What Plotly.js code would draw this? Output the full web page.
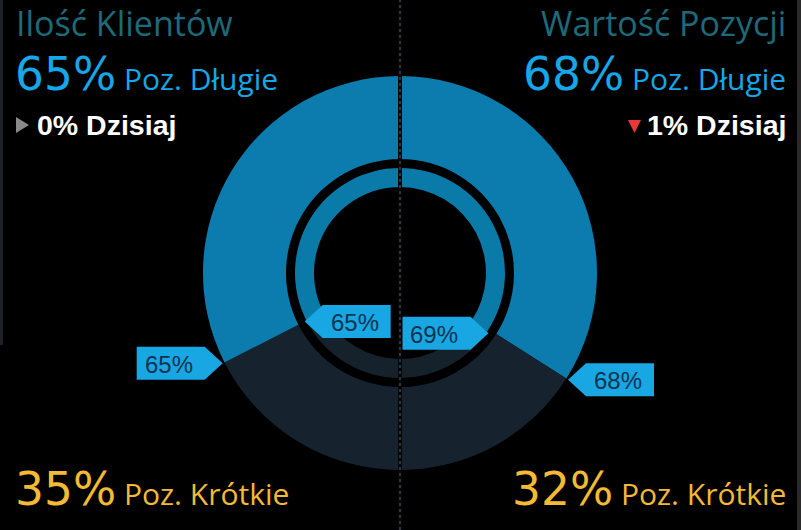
<!DOCTYPE html>
<html><head><meta charset="utf-8">
<script src="https://cdn.plot.ly/plotly-3.0.1.min.js"></script>
<style>html,body{margin:0;padding:0;background:#000;}#chart{width:801px;height:530px;}</style>
</head><body><div id="chart"></div>
<script>
// ---- data ----
const panelTitles = ['Ilość Klientów', 'Wartość Pozycji'];
const categories = ['Poz. Długie', 'Poz. Krótkie'];
const clientsOuter = [65, 35];   // outer ring, left half
const valueOuter = [68, 32];     // outer ring, right half
const clientsInner = [65, 35];   // inner ring, left half
const valueInner = [69, 31];     // inner ring, right half
const dailyChange = [0, -1];     // "Dzisiaj" change: clients, value
const dailyLabel = 'Dzisiaj';

// ---- layout constants ----
const W = 801, H = 530;
const cx = 400, cy = 273;
const R1 = 197, r1 = 114;   // outer ring
const R2 = 105, r2 = 86;    // inner ring
const BLUE = '#0b7cad', BLUE_IN = '#0a7aa9', DARK = '#16232e', DARK_IN = '#15212b';
const LBL = '#19a7e3', LBL_TXT = '#0d3350';
const TEAL = '#1d6a7a', CYAN = '#16a7e8', GOLD = '#f4b935';

const px = x => x / W;
const py = y => 1 - y / H;

function domainFor(R) {
  return {x: [px(cx - R), px(cx + R)], y: [py(cy + R), py(cy - R)]};
}

const traces = [
  {type: 'pie', values: [valueOuter[0], valueOuter[1], clientsOuter[1], clientsOuter[0]],
   labels: ['a', 'b', 'c', 'd'], direction: 'clockwise', rotation: 0, sort: false,
   hole: r1 / R1, domain: domainFor(R1), textinfo: 'none', hoverinfo: 'skip',
   marker: {colors: [BLUE, DARK, DARK, BLUE], line: {width: 0}}},
  {type: 'pie', values: [valueInner[0], valueInner[1], clientsInner[1], clientsInner[0]],
   labels: ['a', 'b', 'c', 'd'], direction: 'clockwise', rotation: 0, sort: false,
   hole: r2 / R2, domain: domainFor(R2), textinfo: 'none', hoverinfo: 'skip',
   marker: {colors: [BLUE_IN, DARK_IN, DARK_IN, BLUE_IN], line: {width: 0}}}
];

const shapes = [];
const annotations = [];
const pathOf = pts => 'M' + pts.map(q => px(q[0]) + ',' + py(q[1])).join(' L') + ' Z';

// frame edges and centre divider
shapes.push({type: 'rect', xref: 'paper', yref: 'paper', x0: px(0), x1: px(3), y0: py(345), y1: 1, fillcolor: '#1b2125', line: {width: 0}, layer: 'below'});
shapes.push({type: 'rect', xref: 'paper', yref: 'paper', x0: px(797), x1: 1, y0: 0, y1: 1, fillcolor: '#2a2a2a', line: {width: 0}, layer: 'below'});
shapes.push({type: 'line', xref: 'paper', yref: 'paper', x0: px(cx), x1: px(cx), y0: 0, y1: 1, line: {color: '#060606', width: 4}, layer: 'above'});
shapes.push({type: 'line', xref: 'paper', yref: 'paper', x0: px(cx), x1: px(cx), y0: 0, y1: 1, line: {color: '#3a464e', width: 1.5, dash: 'dot'}, layer: 'above'});

// callout labels at the split points
function callout(longPct, R, side, dir) {
  // side: -1 left half, +1 right half ; dir: -1 body to the left of tip, +1 to the right
  const phi = (longPct / 100) * Math.PI;
  const rr = R + 2;
  const tx = cx + side * rr * Math.sin(phi);
  const ty = cy - rr * Math.cos(phi);
  const p = 18, w = 68, h = 33;
  const pts = [[tx, ty], [tx + dir * p, ty - h / 2], [tx + dir * (p + w), ty - h / 2],
               [tx + dir * (p + w), ty + h / 2], [tx + dir * p, ty + h / 2]];
  shapes.push({type: 'path', xref: 'paper', yref: 'paper', path: pathOf(pts), fillcolor: LBL, line: {width: 0}, layer: 'above'});
  annotations.push({xref: 'paper', yref: 'paper', x: px(tx + dir * (p + w / 2) - 2), y: py(ty + 1),
    text: longPct + '%', showarrow: false, xanchor: 'center', yanchor: 'middle',
    font: {family: 'Liberation Sans, Arial, sans-serif', size: 24, color: LBL_TXT}});
}
callout(clientsOuter[0], R1, -1, -1);
callout(clientsInner[0], R2, -1, +1);
callout(valueInner[0], R2, +1, -1);
callout(valueOuter[0], R1, +1, +1);

// text blocks
const FONT = 'Open Sans, Noto Sans, sans-serif';
function txt(x, y, anchor, yanchor, text, size, color, family) {
  annotations.push({xref: 'paper', yref: 'paper', x: px(x), y: py(y), xanchor: anchor, yanchor: yanchor,
    borderwidth: 0, borderpad: 0,
    text: text, showarrow: false, font: {family: family || FONT, size: size, color: color}});
}
const BIGFONT = 'DejaVu Sans, sans-serif';
const big = (n, label) => n + '%<span style="font-family:Open Sans;font-size:30px"> ' + label + '</span>';

// left panel
txt(16, 0, 'left', 'top', panelTitles[0], 34, TEAL);
txt(15, 48, 'left', 'top', big(clientsOuter[0], categories[0]), 45.5, CYAN, BIGFONT);
txt(15, 463, 'left', 'top', big(clientsOuter[1], categories[1]), 45.5, GOLD, BIGFONT);
// right panel
txt(786, 0, 'right', 'top', panelTitles[1], 34, TEAL);
txt(786, 48, 'right', 'top', big(valueOuter[0], categories[0]), 45.5, CYAN, BIGFONT);
txt(786, 463, 'right', 'top', big(valueOuter[1], categories[1]), 45.5, GOLD, BIGFONT);

// daily change rows
function daily(change, xText, anchor, triPts) {
  const triColor = change < 0 ? '#e8393a' : (change > 0 ? '#2ecc40' : '#8a8a8a');
  txt(xText, 125, anchor, 'middle', '<b>' + Math.abs(change) + '% ' + dailyLabel + '</b>', 28.5, '#ffffff', 'Liberation Sans, Arial, sans-serif');
  shapes.push({type: 'path', xref: 'paper', yref: 'paper', path: pathOf(triPts), fillcolor: triColor, line: {width: 0}, layer: 'above'});
}
const triFor = (change, x, y) => change < 0
  ? [[x, y], [x + 13, y], [x + 6.5, y + 13]]
  : (change > 0 ? [[x, y + 13], [x + 13, y + 13], [x + 6.5, y]] : [[x, y - 2], [x + 13, y + 6], [x, y + 14]]);
daily(dailyChange[0], 37, 'left', triFor(dailyChange[0], 16, 119));
daily(dailyChange[1], 786, 'right', triFor(dailyChange[1], 628, 120));

const layout = {
  width: W, height: H, margin: {l: 0, r: 0, t: 0, b: 0},
  paper_bgcolor: '#000', plot_bgcolor: '#000', showlegend: false,
  shapes: shapes, annotations: annotations
};
Plotly.newPlot('chart', traces, layout, {displayModeBar: false, staticPlot: true});
</script>
</body></html>
